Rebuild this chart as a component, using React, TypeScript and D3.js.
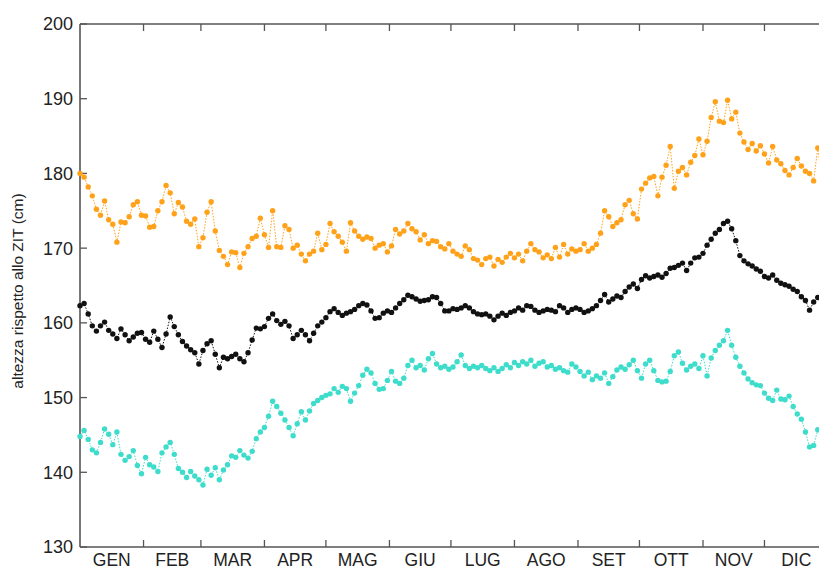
import React, { useEffect, useRef } from 'react';
import * as d3 from 'd3';

// one reading every 2 days, day 0 = 1 January
const months = ['GEN', 'FEB', 'MAR', 'APR', 'MAG', 'GIU', 'LUG', 'AGO', 'SET', 'OTT', 'NOV', 'DIC'];
const monthDays = [31, 28, 31, 30, 31, 30, 31, 31, 30, 31, 30, 31];
const yTicks = [130, 140, 150, 160, 170, 180, 190, 200];

const orangeSeries = [
  180.0, 179.5, 178.2, 177.0, 175.2, 174.4, 176.3, 173.8, 173.2, 170.8,
  173.5, 173.4, 174.2, 175.8, 176.2, 174.4, 174.3, 172.8, 172.9, 175.0,
  176.2, 178.4, 177.4, 174.6, 176.1, 175.5, 173.6, 173.2, 173.9, 170.2,
  171.4, 174.8, 176.2, 172.3, 169.7, 168.9, 167.8, 169.5, 169.4, 167.4,
  169.3, 170.2, 171.3, 171.6, 174.0, 171.8, 170.1, 175.0, 170.2, 170.1,
  173.0, 172.5, 170.0, 170.4, 169.2, 168.3, 169.2, 169.6, 172.0, 169.8,
  170.5, 173.3, 172.2, 171.6, 170.8, 169.6, 173.4, 172.3, 171.6, 171.2,
  171.5, 171.3, 170.0, 170.4, 170.6, 169.5, 170.3, 172.5, 171.9, 172.3,
  173.3, 172.6, 172.2, 171.1, 171.8, 170.6, 171.0, 170.9, 170.2, 169.9,
  170.6, 169.6, 169.2, 168.9, 170.3, 169.8, 168.6, 168.4, 167.8, 168.6,
  168.8, 167.6, 168.5, 168.1, 168.8, 169.3, 168.7, 169.2, 168.3, 169.6,
  170.6, 169.8, 169.5, 168.7, 169.1, 168.6, 170.1, 168.8, 170.5, 169.2,
  169.9, 169.6, 169.8, 170.6, 169.6, 170.0, 170.5, 172.0, 175.0, 174.2,
  172.9, 173.4, 173.8, 175.8, 176.4, 174.6, 173.9, 177.9, 178.7, 179.4,
  179.6, 177.0, 179.5, 181.1, 183.6, 178.0, 180.3, 180.8, 179.8, 181.5,
  182.4, 184.6, 182.5, 184.3, 187.5, 189.6, 187.0, 186.8, 189.8, 187.3,
  188.2, 185.4, 184.2, 183.2, 184.0, 183.0, 183.7, 182.6, 181.4, 183.6,
  181.8, 181.3, 180.4, 179.8, 180.8, 182.0, 181.0, 180.3, 180.0, 179.0,
  183.4, 179.5, 180.0,
];

const blackSeries = [
  162.3, 162.6, 161.2, 159.6, 158.9, 159.6, 160.1, 159.0, 158.5, 157.9,
  159.2, 158.4, 157.6, 158.1, 158.6, 158.7, 157.8, 157.4, 158.9, 157.8,
  156.7, 158.5, 160.8, 159.5, 158.4, 157.5, 156.9, 156.4, 156.0, 154.5,
  156.3, 157.2, 157.6, 155.8, 154.0, 155.4, 155.2, 155.5, 155.8, 155.2,
  154.8, 156.0, 157.7, 159.3, 159.2, 159.5, 160.6, 161.2, 160.3, 159.8,
  160.2, 159.6, 157.9, 158.4, 159.0, 158.4, 157.6, 158.6, 159.6, 160.1,
  160.7, 161.5, 161.9, 161.4, 161.0, 161.3, 161.5, 161.8, 162.3, 162.6,
  162.4, 161.6, 160.6, 160.7, 161.3, 161.6, 161.4, 162.0, 162.6, 163.1,
  163.7, 163.5, 163.2, 162.9, 163.0, 163.1, 163.5, 163.4, 162.6, 161.6,
  161.6, 161.9, 161.8, 162.0, 162.3, 162.0, 161.5, 161.2, 161.1, 161.2,
  160.9, 160.4, 160.9, 161.3, 161.0, 161.4, 161.6, 162.0, 161.7, 162.3,
  162.2, 161.7, 161.4, 161.6, 161.8, 161.7, 161.5, 162.3, 162.0, 161.4,
  161.8, 162.0, 161.8, 161.4, 161.6, 161.9, 162.3, 163.0, 163.8, 162.8,
  163.2, 163.6, 163.4, 164.2, 164.8, 165.2, 164.6, 165.8, 166.3, 166.0,
  166.2, 166.4, 166.1, 166.6, 167.3, 167.4, 167.7, 168.0, 167.0, 168.0,
  168.7, 168.8, 169.3, 170.4, 171.2, 172.0, 172.5, 173.3, 173.6, 172.6,
  171.0, 169.0, 168.3, 167.9, 167.6, 167.2, 166.9, 166.2, 166.0, 166.4,
  165.7, 165.3, 165.1, 164.9, 164.5, 164.2, 163.5, 163.0, 161.7, 162.8,
  163.4, 164.0, 163.5,
];

const turquoiseSeries = [
  144.8, 145.6, 144.4, 143.0, 142.6, 144.0, 145.8, 145.1, 143.7, 145.4,
  142.4, 141.6, 142.1, 142.9, 140.9, 139.8, 142.0, 141.0, 140.7, 140.1,
  142.6, 143.4, 144.0, 142.4, 140.5, 140.0, 139.3, 140.1, 139.5, 139.0,
  138.3, 140.4, 139.6, 140.6, 139.0, 140.3, 141.0, 142.2, 142.0, 142.9,
  142.3, 141.9, 142.8, 144.5, 145.4, 146.0, 147.5, 149.5, 148.8, 147.9,
  147.0, 146.0, 144.9, 146.5, 148.1, 147.0, 148.2, 149.2, 149.6, 150.0,
  150.3, 150.5, 151.2, 150.7, 151.5, 151.2, 149.5, 150.6, 151.6, 153.0,
  153.8, 153.3, 151.9, 151.1, 151.2, 152.3, 153.5, 152.2, 151.9, 152.6,
  154.3, 155.0, 154.0, 154.3, 153.7, 155.2, 155.9, 154.5, 154.0, 154.2,
  153.8, 154.1, 154.8, 155.7, 154.3, 153.9, 154.2, 154.0, 154.3, 153.9,
  153.6, 154.0, 153.5, 153.9, 154.4, 154.0, 154.7, 154.3, 154.8, 154.5,
  155.0, 154.2, 154.6, 154.8, 154.1, 154.3, 153.8, 154.0, 153.6, 153.4,
  154.5, 154.1, 153.5, 152.9, 153.4, 152.4, 152.9, 152.6, 153.3, 151.9,
  152.8, 153.7, 154.1, 153.8, 154.4, 155.0, 153.6, 152.6, 154.5, 155.0,
  153.6, 152.3, 152.1, 152.2, 153.5, 155.6, 156.1, 154.6, 153.7, 154.2,
  154.5, 153.9, 155.6, 152.9, 155.3, 156.3, 157.0, 157.6, 159.0, 157.0,
  155.4, 154.2, 153.3, 152.5, 152.0, 151.7, 151.6, 150.6, 149.9, 149.6,
  151.0, 149.8, 149.7, 150.2, 148.8, 147.8, 147.1, 145.4, 143.4, 143.6,
  145.7, 146.2, 146.0,
];

const seriesList = [
  { name: 'arancio', color: '#ffa21a', values: orangeSeries },
  { name: 'nero', color: '#111111', values: blackSeries },
  { name: 'turchese', color: '#3ddccb', values: turquoiseSeries },
];

const W = 819;
const H = 571;

const App: React.FC = () => {
  const svgRef = useRef<SVGSVGElement | null>(null);

  useEffect(() => {
    document.body.style.margin = '0';
    const svg = d3.select(svgRef.current);
    svg.selectAll('*').remove();

    const left = 80;
    const right = 828;
    const top = 24;
    const bottom = 547;

    const x = d3.scaleLinear().domain([0, 365]).range([left, right]);
    const y = d3.scaleLinear().domain([130, 200]).range([bottom, top]);

    const monthStarts = d3.cumsum([0, ...monthDays]);
    const boundaries = monthStarts.slice(1, 12);
    const font = 'Liberation Sans, Arial, Helvetica, sans-serif';
    const axisColor = '#555';

    // frame
    const frame = svg.append('g').attr('stroke', axisColor).attr('stroke-width', 1.6).attr('fill', 'none');
    frame.append('line').attr('x1', left).attr('x2', right).attr('y1', top).attr('y2', top);
    frame.append('line').attr('x1', left).attr('x2', right).attr('y1', bottom).attr('y2', bottom);
    frame.append('line').attr('x1', left).attr('x2', left).attr('y1', top).attr('y2', bottom);
    frame.append('line').attr('x1', right).attr('x2', right).attr('y1', top).attr('y2', bottom);

    // month ticks (inward, top and bottom)
    const ticks = svg.append('g').attr('stroke', axisColor).attr('stroke-width', 1.3);
    boundaries.forEach(d => {
      ticks.append('line').attr('x1', x(d)).attr('x2', x(d)).attr('y1', bottom).attr('y2', bottom - 7);
      ticks.append('line').attr('x1', x(d)).attr('x2', x(d)).attr('y1', top).attr('y2', top + 7);
    });
    yTicks.forEach(v => {
      ticks.append('line').attr('x1', left).attr('x2', left + 7).attr('y1', y(v)).attr('y2', y(v));
    });

    // tick labels
    svg
      .append('g')
      .selectAll('text')
      .data(yTicks)
      .join('text')
      .attr('x', left - 7)
      .attr('y', d => y(d))
      .attr('dy', '0.36em')
      .attr('text-anchor', 'end')
      .attr('font-family', font)
      .attr('font-size', 18)
      .attr('fill', '#222')
      .text(d => d);

    svg
      .append('g')
      .selectAll('text')
      .data(months)
      .join('text')
      .attr('x', (_, i) => x((monthStarts[i] + monthStarts[i + 1]) / 2))
      .attr('y', bottom + 19)
      .attr('text-anchor', 'middle')
      .attr('font-family', font)
      .attr('font-size', 17.5)
      .attr('fill', '#222')
      .text(d => d);

    svg
      .append('text')
      .attr('transform', `translate(23,291) rotate(-90)`)
      .attr('text-anchor', 'middle')
      .attr('font-family', font)
      .attr('font-size', 15.5)
      .attr('fill', '#222')
      .text('altezza rispetto allo ZIT (cm)');

    // series: dotted connecting line + dots
    const line = d3
      .line<number>()
      .x((_, i) => x(i * 2))
      .y(d => y(d));

    seriesList.forEach(s => {
      const g = svg.append('g');
      g.append('path')
        .datum(s.values)
        .attr('fill', 'none')
        .attr('stroke', s.color)
        .attr('stroke-width', 1)
        .attr('stroke-dasharray', '1.5,1.5')
        .attr('d', line);
      g.selectAll('circle')
        .data(s.values)
        .join('circle')
        .attr('cx', (_, i) => x(i * 2))
        .attr('cy', d => y(d))
        .attr('r', 2.7)
        .attr('fill', s.color);
    });
  }, []);

  return <svg ref={svgRef} width={W} height={H} style={{ display: 'block' }}></svg>;
};

export default App;
